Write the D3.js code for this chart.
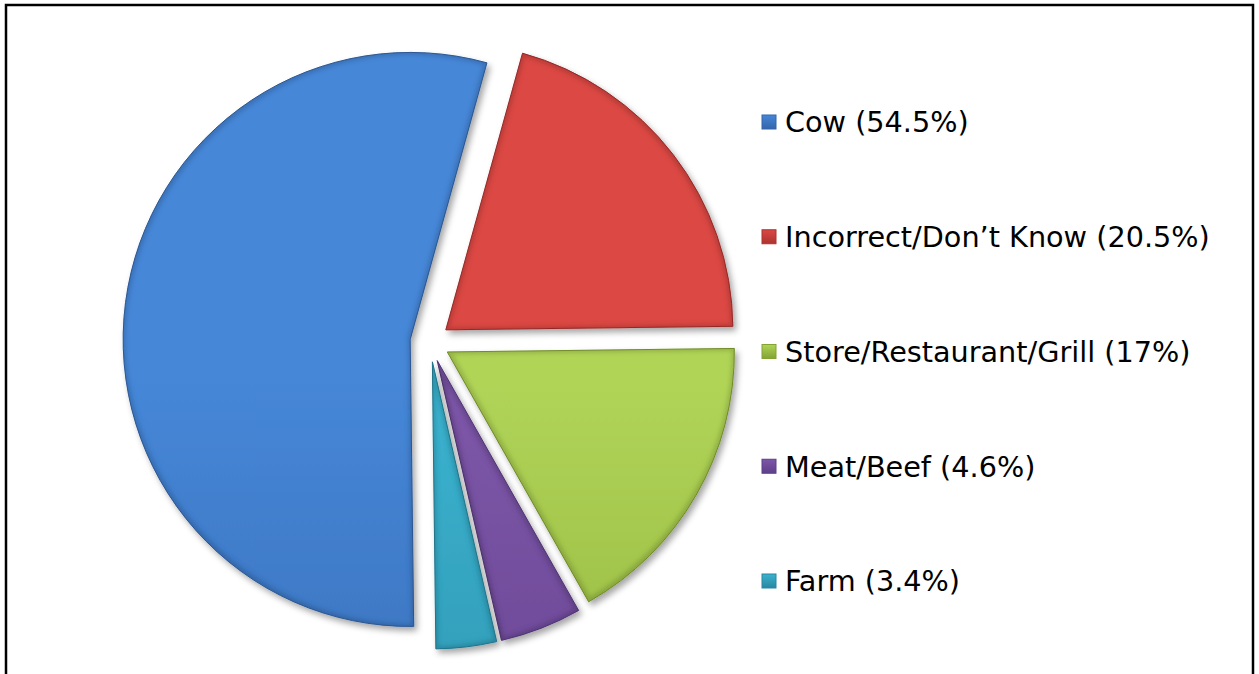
<!DOCTYPE html>
<html>
<head>
<meta charset="utf-8">
<script src="https://cdn.jsdelivr.net/npm/d3@7"></script>
<style>
  body { margin: 0; background: #fff; }
  svg { display: block; }
</style>
</head>
<body>
<div id="chart"></div>
<script>
// chart data
var categories = ["Cow", "Incorrect/Don\u2019t Know", "Store/Restaurant/Grill", "Meat/Beef", "Farm"];
var values = [54.5, 20.5, 17, 4.6, 3.4];
var labels = ["Cow (54.5%)", "Incorrect/Don\u2019t Know (20.5%)", "Store/Restaurant/Grill (17%)", "Meat/Beef (4.6%)", "Farm (3.4%)"];
var topColors = ["#4687d8", "#dc4844", "#b0d457", "#7d56a8", "#3bb2cf"];
var bottomColors = ["#3565aa", "#ad332f", "#83a333", "#5e3f88", "#2987a1"];

var width = 1259, height = 674;
var cx = 430, cy = 342, radius = 287, explode = 20;
var startAngle = 179.3 * Math.PI / 180;

var svg = d3.select("#chart").append("svg")
    .attr("width", width)
    .attr("height", height);

var defs = svg.append("defs");

// drop shadow
var shadow = defs.append("filter")
    .attr("id", "shadow")
    .attr("x", "-10%").attr("y", "-10%")
    .attr("width", "130%").attr("height", "130%");
shadow.append("feDropShadow")
    .attr("dx", 3).attr("dy", 4)
    .attr("stdDeviation", 3)
    .attr("flood-color", "#000")
    .attr("flood-opacity", 0.35);

// bevel-ish inner edge
var bevel = defs.append("filter").attr("id", "bevel");
bevel.append("feMorphology").attr("in", "SourceAlpha").attr("operator", "erode").attr("radius", 3).attr("result", "er");
bevel.append("feGaussianBlur").attr("in", "er").attr("stdDeviation", 2).attr("result", "bl");
bevel.append("feComposite").attr("in", "SourceAlpha").attr("in2", "bl").attr("operator", "out").attr("result", "edge");
bevel.append("feFlood").attr("flood-color", "#000").attr("flood-opacity", 0.3);
bevel.append("feComposite").attr("in2", "edge").attr("operator", "in").attr("result", "dark");
var mg = bevel.append("feMerge");
mg.append("feMergeNode").attr("in", "SourceGraphic");
mg.append("feMergeNode").attr("in", "dark");

categories.forEach(function(c, i) {
    var g = defs.append("linearGradient")
        .attr("id", "grad" + i)
        .attr("gradientUnits", "userSpaceOnUse")
        .attr("x1", 0).attr("y1", cy - radius - explode)
        .attr("x2", 0).attr("y2", cy + radius + explode);
    g.append("stop").attr("offset", "0%").attr("stop-color", topColors[i]);
    g.append("stop").attr("offset", "100%").attr("stop-color", bottomColors[i]);

    var m = defs.append("linearGradient")
        .attr("id", "mgrad" + i)
        .attr("x1", 0).attr("y1", 0).attr("x2", 0).attr("y2", 1);
    m.append("stop").attr("offset", "0%").attr("stop-color", topColors[i]);
    m.append("stop").attr("offset", "100%").attr("stop-color", bottomColors[i]);
});

// frame
svg.append("rect")
    .attr("x", 6).attr("y", 5)
    .attr("width", 1247).attr("height", 700)
    .attr("fill", "none")
    .attr("stroke", "#000")
    .attr("stroke-width", 2.5);

var pie = d3.pie()
    .sort(null)
    .startAngle(startAngle)
    .endAngle(startAngle + 2 * Math.PI);

var arc = d3.arc()
    .innerRadius(0)
    .outerRadius(radius);

var arcs = pie(values);

var pieG = svg.append("g")
    .attr("transform", "translate(" + cx + "," + cy + ")");

pieG.selectAll("path.slice")
    .data(arcs)
    .enter()
    .append("g")
    .attr("filter", "url(#shadow)")
    .attr("transform", function(d) {
        var a = (d.startAngle + d.endAngle) / 2;
        return "translate(" + (Math.sin(a) * explode) + "," + (-Math.cos(a) * explode) + ")";
    })
    .append("path")
    .attr("class", "slice")
    .attr("d", arc)
    .attr("fill", function(d, i) { return "url(#grad" + i + ")"; })
    .attr("stroke", function(d, i) { return bottomColors[i]; })
    .attr("stroke-width", 1)
    .attr("filter", "url(#bevel)");

// legend
var legend = svg.append("g").attr("class", "legend");
var legendY = d3.scalePoint()
    .domain(categories)
    .range([122, 581]);

var items = legend.selectAll("g.item")
    .data(categories)
    .enter()
    .append("g")
    .attr("class", "item")
    .attr("transform", function(d) { return "translate(762," + legendY(d) + ")"; });

items.append("rect")
    .attr("x", 0).attr("y", -7)
    .attr("width", 14).attr("height", 14)
    .attr("fill", function(d, i) { return "url(#mgrad" + i + ")"; })
    .attr("stroke", function(d, i) { return bottomColors[i]; })
    .attr("stroke-width", 1);

var texts = items.append("text")
    .attr("x", 23)
    .attr("dy", "0.36em")
    .attr("font-family", "'DejaVu Sans', Verdana, sans-serif")
    .attr("font-size", 26)
    .attr("fill", "#000")
    .text(function(d, i) { return labels[i]; });

// fit the longest label to the reference width
var longest = d3.max(texts.nodes(), function(n) { return n.getComputedTextLength(); });
var fs = 26 * 425 / longest;
texts.attr("font-size", fs);
</script>
</body>
</html>
